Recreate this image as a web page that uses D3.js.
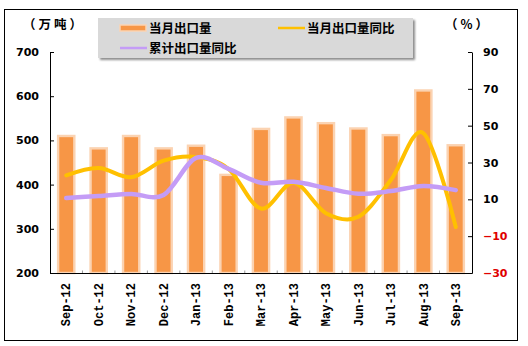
<!DOCTYPE html>
<html>
<head>
<meta charset="utf-8">
<script src="https://cdn.jsdelivr.net/npm/d3@7/dist/d3.min.js"></script>
<style>
  html, body { margin: 0; padding: 0; background: #fff; }
  svg { display: block; }
  .cjk { font-family: "Noto Sans CJK SC", sans-serif; font-weight: 700; }
  .num { font-family: "DejaVu Sans", sans-serif; font-weight: 700; font-size: 11px; }
  .mon { font-family: "Liberation Mono", "DejaVu Sans Mono", monospace; font-weight: 700; font-size: 12px; }
</style>
</head>
<body>
<script>
// Monthly export volume (10k tonnes) and year-on-year growth (%)
const months = ["Sep-12","Oct-12","Nov-12","Dec-12","Jan-13","Feb-13","Mar-13","Apr-13","May-13","Jun-13","Jul-13","Aug-13","Sep-13"];
const monthlyVolume = [510, 482, 510, 482, 488, 422, 526, 552, 539, 527, 512, 613, 489];
const monthlyYoY = [23, 27, 22, 31, 33, 26.5, 5, 19, 2.5, 0.5, 20.5, 46, -5];
const cumulativeYoY = [10.7, 11.8, 12.9, 12.4, 32.5, 26.5, 19, 19.5, 16.2, 13, 14.5, 17.3, 15];
const leftTicks = [200, 300, 400, 500, 600, 700];
const rightTicks = [-30, -10, 10, 30, 50, 70, 90];
const seriesNames = ["当月出口量", "当月出口量同比", "累计出口量同比"];

const W = 528, H = 346;
const plot = { left: 50, right: 472, top: 52, bottom: 273 };
const colors = { bar: "#f79646", barEdge: "#fbd3b2", yoy: "#ffc000", cum: "#c49cf6" };

const svg = d3.select("body").append("svg").attr("width", W).attr("height", H);

// outer frame
svg.append("rect").attr("x", 4.5).attr("y", 9.5).attr("width", 513).attr("height", 331)
  .attr("fill", "#fff").attr("stroke", "#000").attr("stroke-width", 1);

const x = d3.scaleBand().domain(months).range([plot.left, plot.right]).padding(0);
const yL = d3.scaleLinear().domain([200, 700]).range([plot.bottom, plot.top]);
const yR = d3.scaleLinear().domain([-30, 90]).range([plot.bottom, plot.top]);

// bars
const bw = x.bandwidth() * 0.5;
svg.append("g").selectAll("rect").data(months).join("rect")
  .attr("x", d => x(d) + (x.bandwidth() - bw) / 2)
  .attr("y", (d, i) => yL(monthlyVolume[i]))
  .attr("width", bw)
  .attr("height", (d, i) => yL(200) - yL(monthlyVolume[i]))
  .attr("fill", colors.bar)
  .attr("stroke", colors.barEdge)
  .attr("stroke-width", 2.4);

// smoothed growth lines
const line = scale => d3.line()
  .x((d, i) => x(months[i]) + x.bandwidth() / 2)
  .y(d => scale(d))
  .curve(d3.curveCatmullRom.alpha(0));

svg.append("path").datum(monthlyYoY).attr("d", line(yR))
  .attr("fill", "none").attr("stroke", colors.yoy).attr("stroke-width", 4)
  .attr("stroke-linejoin", "round").attr("stroke-linecap", "round");
svg.append("path").datum(cumulativeYoY).attr("d", line(yR))
  .attr("fill", "none").attr("stroke", colors.cum).attr("stroke-width", 4.5)
  .attr("stroke-linejoin", "round").attr("stroke-linecap", "round");

// axes
const gL = svg.append("g").attr("transform", `translate(${plot.left},0)`)
  .call(d3.axisLeft(yL).tickValues(leftTicks).tickSizeInner(-4).tickSizeOuter(0).tickPadding(11));
gL.selectAll("text").attr("class", "num").attr("fill", "#000");

const gR = svg.append("g").attr("transform", `translate(${plot.right},0)`)
  .call(d3.axisRight(yR).tickValues(rightTicks).tickSizeInner(-4).tickSizeOuter(0).tickPadding(11));
gR.selectAll("text").attr("class", "num").attr("fill", d => d < 0 ? "#e00000" : "#000");

const xBounds = d3.range(months.length + 1).map(i => plot.left + i * x.bandwidth());
const gX = svg.append("g").attr("transform", `translate(0,${plot.bottom})`)
  .call(d3.axisBottom(x).tickSize(0).tickPadding(0));
gX.select(".domain").attr("stroke", "#000");
gX.selectAll("text").attr("class", "mon").attr("fill", "#000")
  .attr("text-anchor", "end").attr("dy", "0.35em")
  .attr("transform", "translate(0,10) rotate(-90)");
gX.selectAll(".bnd").data(xBounds.slice(1, -1)).join("line").attr("class", "bnd")
  .attr("x1", d => d).attr("x2", d => d).attr("y1", 0).attr("y2", -2.5)
  .attr("stroke", "#999");
[gL, gR].forEach(g => g.selectAll("line, .domain").attr("stroke", "#000"));

// unit labels
svg.append("text").attr("class", "cjk").attr("x", 54).attr("y", 29)
  .attr("text-anchor", "middle").attr("font-size", 12.5).attr("letter-spacing", 3).text("（万吨）");
svg.append("text").attr("class", "cjk").attr("x", 468).attr("y", 29)
  .attr("text-anchor", "middle").attr("font-size", 12.5).attr("letter-spacing", 3).text("（%）");

// legend
const lg = svg.append("g");
const defs = svg.append("defs");
const f = defs.append("filter").attr("id", "sh").attr("x", "-10%").attr("y", "-20%").attr("width", "130%").attr("height", "160%");
f.append("feGaussianBlur").attr("in", "SourceAlpha").attr("stdDeviation", 1.2);
f.append("feOffset").attr("dx", 2).attr("dy", 2).attr("result", "o");
f.append("feComponentTransfer").append("feFuncA").attr("type", "linear").attr("slope", 0.45);
const fm = f.append("feMerge");
fm.append("feMergeNode");
fm.append("feMergeNode").attr("in", "SourceGraphic");
lg.append("rect").attr("x", 98).attr("y", 18).attr("width", 315).attr("height", 40)
  .attr("fill", "#d9d9d9").attr("filter", "url(#sh)");

const legendItems = [
  { name: seriesNames[0], x: 120, y: 28, type: "bar", color: colors.bar },
  { name: seriesNames[1], x: 278, y: 28, type: "line", color: colors.yoy },
  { name: seriesNames[2], x: 120, y: 48, type: "line", color: colors.cum }
];
legendItems.forEach(it => {
  if (it.type === "bar") {
    lg.append("rect").attr("x", it.x).attr("y", it.y - 3).attr("width", 26).attr("height", 6)
      .attr("fill", it.color).attr("stroke", colors.barEdge).attr("stroke-width", 1.5);
  } else {
    lg.append("line").attr("x1", it.x).attr("x2", it.x + 27).attr("y1", it.y).attr("y2", it.y)
      .attr("stroke", it.color).attr("stroke-width", 2.5);
  }
  lg.append("text").attr("class", "cjk").attr("x", it.x + 29).attr("y", it.y + 4.5)
    .attr("font-size", 12.5).text(it.name);
});
</script>
</body>
</html>
